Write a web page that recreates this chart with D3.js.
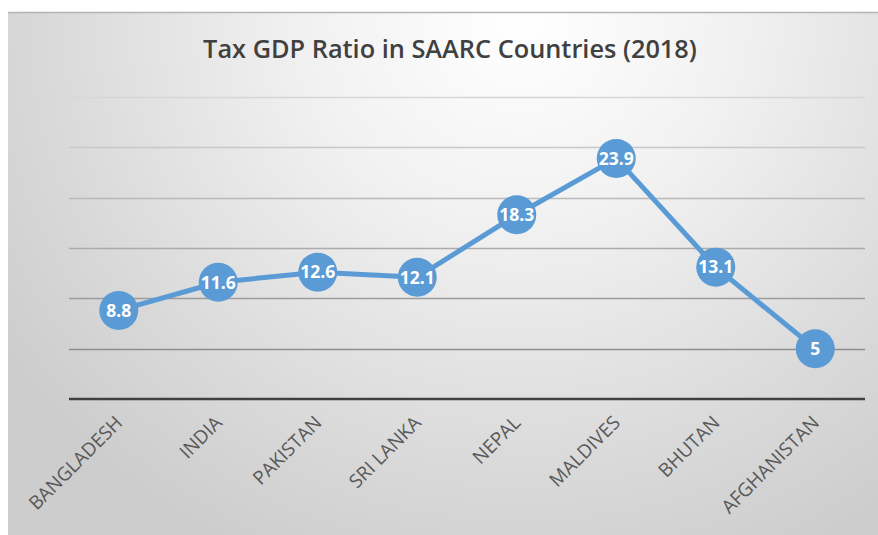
<!DOCTYPE html>
<html>
<head>
<meta charset="utf-8">
<script src="https://cdn.jsdelivr.net/npm/d3@7"></script>
<style>
  html, body { margin: 0; padding: 0; background: #ffffff; }
  svg { display: block; }
</style>
</head>
<body>
<svg id="chart" width="878" height="535"></svg>
<script>
// Tax revenue as % of GDP, SAARC members, 2018
const countries = ["BANGLADESH", "INDIA", "PAKISTAN", "SRI LANKA", "NEPAL", "MALDIVES", "BHUTAN", "AFGHANISTAN"];
const taxGdp = [8.8, 11.6, 12.6, 12.1, 18.3, 23.9, 13.1, 5];
const gridTicks = [0, 5, 10, 15, 20, 25, 30];
const chartTitle = "Tax GDP Ratio in SAARC Countries (2018)";

const W = 878, H = 535;
const svg = d3.select("#chart");
const defs = svg.append("defs");

// soft radial fill: light at top centre, grey towards the edges
const bg = defs.append("radialGradient")
  .attr("id", "bgFill")
  .attr("gradientUnits", "userSpaceOnUse")
  .attr("cx", 520).attr("cy", 20)
  .attr("r", 620)
  .attr("gradientTransform", "translate(520,20) scale(1,0.95) translate(-520,-20)");
bg.append("stop").attr("offset", "0%").attr("stop-color", "#ffffff");
bg.append("stop").attr("offset", "35%").attr("stop-color", "#f1f1f1");
bg.append("stop").attr("offset", "75%").attr("stop-color", "#dadada");
bg.append("stop").attr("offset", "100%").attr("stop-color", "#cdcdcd");

const frame = { x: 8, y: 12, w: W - 8, h: H - 12 };
svg.append("rect")
  .attr("x", frame.x).attr("y", frame.y)
  .attr("width", frame.w).attr("height", frame.h)
  .attr("fill", "url(#bgFill)");
svg.append("line")
  .attr("x1", frame.x).attr("x2", W)
  .attr("y1", frame.y + 0.5).attr("y2", frame.y + 0.5)
  .attr("stroke", "#b4b4b4").attr("stroke-width", 1.5);

// plot area
const plot = { left: 69, right: 865, top: 97, bottom: 399 };

const x = d3.scaleBand()
  .domain(countries)
  .range([plot.left, plot.right]);

const y = d3.scaleLinear()
  .domain([0, 30])
  .range([plot.bottom, plot.top]);

// horizontal gridlines, darker towards the baseline
const gridColor = d3.scaleLinear()
  .domain([5, 30])
  .range(["#8e8e8e", "#d6d6d6"]);

svg.append("g")
  .selectAll("line")
  .data(gridTicks.filter(t => t > 0))
  .join("line")
  .attr("x1", plot.left).attr("x2", plot.right)
  .attr("y1", d => Math.round(y(d)) + 0.5)
  .attr("y2", d => Math.round(y(d)) + 0.5)
  .attr("stroke", d => gridColor(d))
  .attr("stroke-width", 1.3);

// category axis along zero
const xAxis = svg.append("g")
  .attr("transform", `translate(0,${y(0)})`)
  .call(d3.axisBottom(x).tickSize(0).tickPadding(0));
xAxis.attr("font-size", null).attr("font-family", null);
xAxis.select(".domain")
  .attr("stroke", "#404040")
  .attr("stroke-width", 2.6)
  .attr("d", `M${plot.left},0H${plot.right}`);
xAxis.selectAll(".tick text")
  .attr("fill", "#595959")
  .style("font-family", "'Open Sans', 'Liberation Sans', sans-serif")
  .style("font-size", "19px")
  .attr("text-anchor", "end")
  .attr("dy", null)
  .attr("y", 0)
  .attr("x", 0)
  .attr("transform", "translate(5,25) rotate(-45)");

// series line
const line = d3.line()
  .x((d, i) => x(countries[i]) + x.bandwidth() / 2)
  .y(d => y(d));

svg.append("path")
  .datum(taxGdp)
  .attr("d", line)
  .attr("fill", "none")
  .attr("stroke", "#5B9BD5")
  .attr("stroke-width", 5)
  .attr("stroke-linejoin", "round");

// markers with value labels
const pts = svg.append("g")
  .selectAll("g")
  .data(taxGdp)
  .join("g")
  .attr("transform", (d, i) => `translate(${x(countries[i]) + x.bandwidth() / 2},${y(d)})`);

pts.append("circle")
  .attr("r", 19.5)
  .attr("fill", "#5B9BD5");

pts.append("text")
  .text(d => d)
  .attr("text-anchor", "middle")
  .attr("dy", "0.36em")
  .attr("fill", "#ffffff")
  .attr("font-family", "'Open Sans', 'Liberation Sans', sans-serif")
  .attr("font-weight", 700)
  .attr("font-size", 17.5);

// title, sized to span its measured width
const title = svg.append("text")
  .text(chartTitle)
  .attr("x", 450)
  .attr("y", 58)
  .attr("text-anchor", "middle")
  .attr("fill", "#404040")
  .attr("font-family", "'Open Sans', 'Liberation Sans', sans-serif")
  .attr("font-weight", 600)
  .attr("font-size", 24);
const tw = title.node().getComputedTextLength();
title.attr("font-size", 24 * 494 / tw);
</script>
</body>
</html>
